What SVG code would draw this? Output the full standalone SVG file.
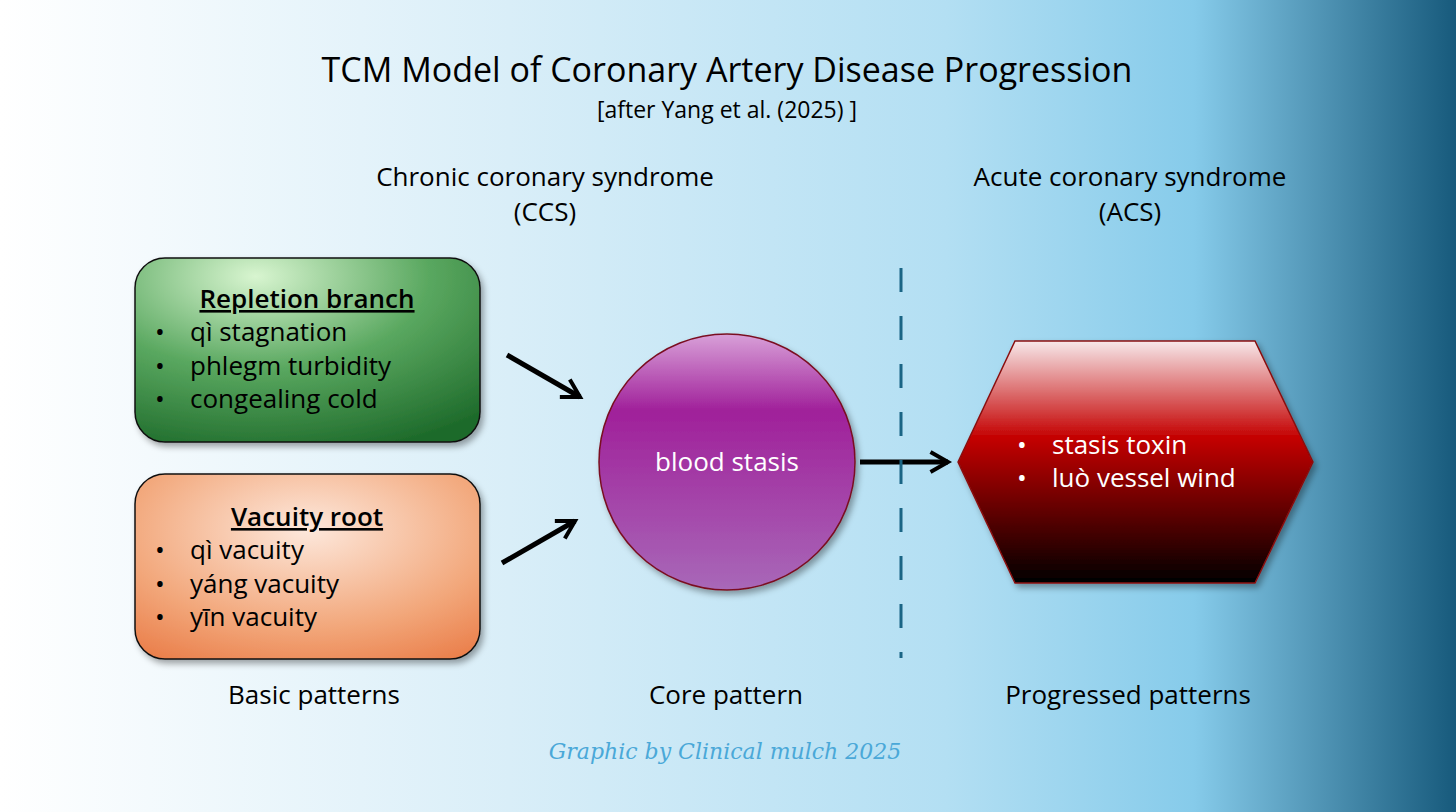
<svg xmlns="http://www.w3.org/2000/svg" width="1456" height="812" viewBox="0 0 1456 812">
<defs>
<linearGradient id="bg" x1="0" y1="0" x2="1" y2="0">
<stop offset="0" stop-color="#ffffff"/><stop offset="0.35" stop-color="#d9eef8"/><stop offset="0.65" stop-color="#b3dff3"/><stop offset="0.82" stop-color="#86cbea"/><stop offset="1" stop-color="#175a7c"/>
</linearGradient>
<radialGradient id="gr" cx="0.35" cy="0.1" r="1"><stop offset="0" stop-color="#d8f5d0"/><stop offset="0.5" stop-color="#5aa860"/><stop offset="1" stop-color="#1d6a2a"/></radialGradient>
<radialGradient id="or" cx="0.5" cy="0.3" r="0.9"><stop offset="0" stop-color="#fde8dc"/><stop offset="0.6" stop-color="#f2a679"/><stop offset="1" stop-color="#e8743e"/></radialGradient>
<linearGradient id="pu" x1="0" y1="0" x2="0" y2="1"><stop offset="0" stop-color="#d8a0d8"/><stop offset="0.3" stop-color="#a0209a"/><stop offset="1" stop-color="#a868b8"/></linearGradient>
<linearGradient id="hx" x1="0" y1="0" x2="0" y2="1"><stop offset="0" stop-color="#f7e8ea"/><stop offset="0.4" stop-color="#c40000"/><stop offset="1" stop-color="#000000"/></linearGradient>
<marker id="ah" viewBox="0 0 10 10" refX="8" refY="5" markerWidth="5" markerHeight="5" orient="auto"><path d="M1,1 L8,5 L1,9" fill="none" stroke="#000" stroke-width="1.6"/></marker>
<filter id="sh" x="-10%" y="-10%" width="130%" height="130%"><feDropShadow dx="3" dy="4" stdDeviation="3" flood-opacity="0.35"/></filter>
</defs>
<style>
text{font-family:"Open Sans","Noto Sans",sans-serif;fill:#000}
.h{font-size:26px;text-anchor:middle}
.b{font-size:26px}
.hd{font-size:26px;text-anchor:middle;font-weight:600;text-decoration:underline}
.w{fill:#fff;font-size:26px}
.ar{stroke:#000;stroke-width:5;fill:none;marker-end:url(#ah)}
</style>
<rect width="1456" height="812" fill="url(#bg)"/>
<text x="727" y="82" font-size="34" text-anchor="middle">TCM Model of Coronary Artery Disease Progression</text>
<text x="727" y="118" font-size="23" text-anchor="middle">[after Yang et al. (2025) ]</text>
<text x="545" y="186" class="h">Chronic coronary syndrome</text>
<text x="545" y="221" class="h">(CCS)</text>
<text x="1130" y="186" class="h">Acute coronary syndrome</text>
<text x="1130" y="221" class="h">(ACS)</text>
<g id="repletion">
<rect x="135" y="258" width="345" height="184" rx="30" fill="url(#gr)" stroke="#111" stroke-width="1.5" filter="url(#sh)"/>
<text x="307" y="308" class="hd">Repletion branch</text>
<text x="155" y="341" class="b">•</text><text x="190" y="341" class="b">qì stagnation</text>
<text x="155" y="375" class="b">•</text><text x="190" y="375" class="b">phlegm turbidity</text>
<text x="155" y="408" class="b">•</text><text x="190" y="408" class="b">congealing cold</text>
</g>
<g id="vacuity">
<rect x="135" y="474" width="345" height="185" rx="30" fill="url(#or)" stroke="#111" stroke-width="1.5" filter="url(#sh)"/>
<text x="307" y="526" class="hd">Vacuity root</text>
<text x="155" y="559" class="b">•</text><text x="190" y="559" class="b">qì vacuity</text>
<text x="155" y="593" class="b">•</text><text x="190" y="593" class="b">yáng vacuity</text>
<text x="155" y="626" class="b">•</text><text x="190" y="626" class="b">yīn vacuity</text>
</g>
<g id="core">
<circle cx="727" cy="462" r="128" fill="url(#pu)" stroke="#7a1020" stroke-width="1.5" filter="url(#sh)"/>
<text x="727" y="471" class="w" text-anchor="middle">blood stasis</text>
</g>
<g id="acs">
<polygon points="958,462 1015,341 1255,341 1313,462 1255,583 1015,583" fill="url(#hx)" stroke="#8a1010" stroke-width="1.5" filter="url(#sh)"/>
<text x="1017" y="454" class="w">•</text><text x="1052" y="454" class="w">stasis toxin</text>
<text x="1017" y="487" class="w">•</text><text x="1052" y="487" class="w">luò vessel wind</text>
</g>
<g id="connectors">
<line x1="507" y1="355" x2="580" y2="397" class="ar"/>
<line x1="502" y1="563" x2="575" y2="521" class="ar"/>
<line x1="860" y1="462" x2="948" y2="462" class="ar"/>
<line x1="901" y1="268" x2="901" y2="658" stroke="#1a6585" stroke-width="3" stroke-dasharray="24,24"/>
</g>
<text x="314" y="704" class="h">Basic patterns</text>
<text x="726" y="704" class="h">Core pattern</text>
<text x="1128" y="704" class="h">Progressed patterns</text>
<text x="725" y="759" font-size="22" text-anchor="middle" style="font-family:'DejaVu Serif',serif;font-style:italic;fill:#4aa8d8">Graphic by Clinical mulch 2025</text>
</svg>
